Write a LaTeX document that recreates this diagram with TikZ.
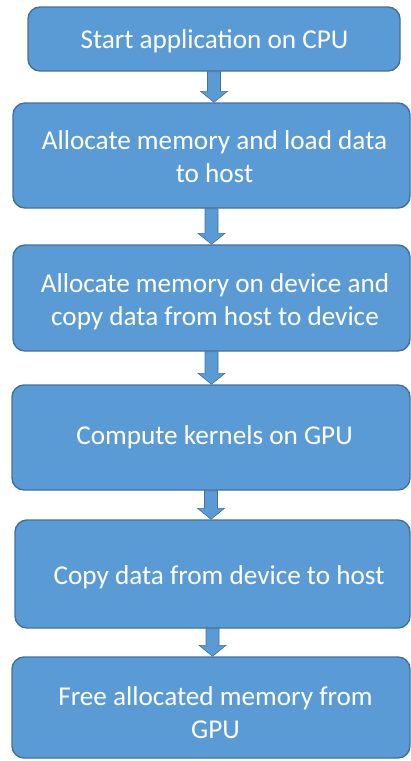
\documentclass[tikz,border=0pt]{standalone}
\usepackage{fontspec}
\setmainfont{Carlito}
\usetikzlibrary{calc}
\definecolor{boxfill}{HTML}{5B9BD5}
\definecolor{boxline}{HTML}{41719C}
\tikzset{
  box/.style={draw=boxline, fill=boxfill, line width=1.4pt, rounded corners=12pt, inner sep=0pt},
  txt/.style={text=white, font=\fontsize{27.2}{33}\selectfont, align=center, inner sep=0pt},
  blockarr/.style={draw=boxline, fill=boxfill, line width=0.6pt},
}
\newcommand\barrow[2]{%
  \draw[blockarr] let \p1=(#1.south), \p2=(#2.north) in
    (\x1-6.5pt,\y1) -- (\x1-6.5pt,\y2+11pt) -- (\x1-13.5pt,\y2+11pt) -- (\x1,\y2)
    -- (\x1+13.5pt,\y2+11pt) -- (\x1+6.5pt,\y2+11pt) -- (\x1+6.5pt,\y1) -- cycle;}
\begin{document}
\begin{tikzpicture}[x=1pt,y=-1pt]
\useasboundingbox (0,0) rectangle (411,761);
\node[box, minimum width=372pt, minimum height=64pt] (b1) at (214,39) {};
\node[box, minimum width=397pt, minimum height=105pt] (b2) at (211.5,155.5) {};
\node[box, minimum width=397pt, minimum height=106pt] (b3) at (211.5,298) {};
\node[box, minimum width=398pt, minimum height=105pt] (b4) at (211,437.5) {};
\node[box, minimum width=395pt, minimum height=108pt] (b5) at (212.5,574) {};
\node[box, minimum width=398pt, minimum height=101pt] (b6) at (211,707.5) {};
\node[txt] (t1) at ($(b1.center)+(0.5,2)$) {Start application on CPU};
\node[txt] (t2) at ($(b2.center)+(3,1.5)$) {Allocate memory and load data\\to host};
\node[txt] (t3) at ($(b3.center)+(3.5,3.5)$) {Allocate memory on device and\\copy data from host to device};
\node[txt] (t4) at ($(b4.center)+(3.5,0)$) {Compute kernels on GPU};
\node[txt] (t5) at ($(b5.center)+(6.5,3)$) {Copy data from device to host};
\node[txt] (t6) at ($(b6.center)+(4.5,5.5)$) {Free allocated memory from\\GPU};
\barrow{b1}{b2}
\barrow{b2}{b3}
\barrow{b3}{b4}
\barrow{b4}{b5}
\barrow{b5}{b6}
\end{tikzpicture}
\end{document}
